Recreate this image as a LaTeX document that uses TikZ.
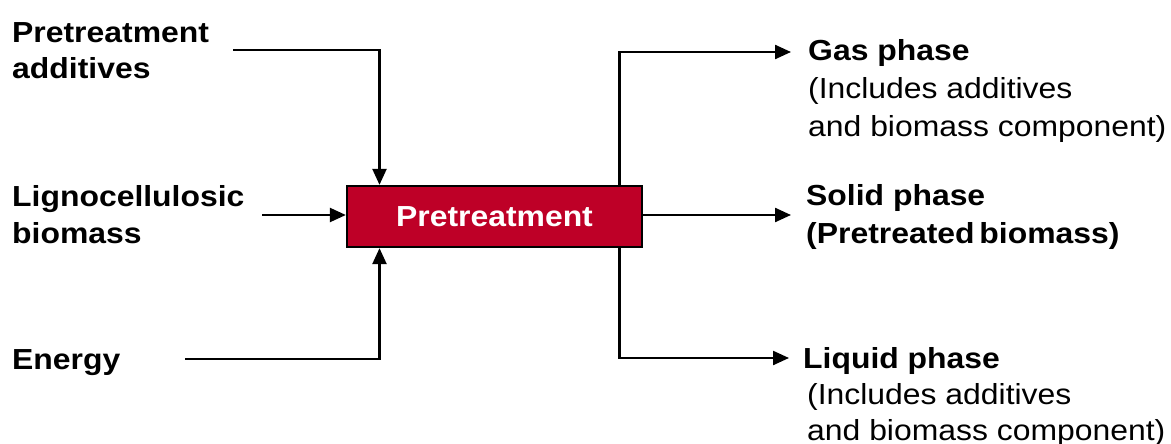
\documentclass[tikz,border=0pt]{standalone}
\usepackage{fontspec}
\setmainfont{Liberation Sans}[FakeStretch=1.10,BoldFeatures={FakeStretch=1.10}]
\usetikzlibrary{arrows.meta}
\definecolor{procred}{HTML}{BE0027}
\begin{document}
\begin{tikzpicture}[x=1pt,y=-1pt,
  flow/.style={line width=2.3pt,-{Triangle[length=16pt,width=14pt]}},
  lbl/.style={anchor=base west,inner sep=0pt,font=\fontsize{29}{35}\selectfont\bfseries},
  note/.style={anchor=base west,inner sep=0pt,font=\fontsize{29}{35}\selectfont},
  procbox/.style={draw=black,line width=2.3pt,fill=procred,text=white,
    minimum width=295pt,minimum height=61pt,inner sep=0pt,
    font=\fontsize{29}{35}\selectfont\bfseries}]
\useasboundingbox (0,0) rectangle (1171,444);

% central process
\node[procbox] (pt) at (494.5,216.5) {Pretreatment};

% inputs
\node[lbl] (add1) at (12,43) {Pretreatment};
\node[lbl] (add2) at (12,79) {additives};
\node[lbl] (lig1) at (12,206) {Lignocellulosic};
\node[lbl] (lig2) at (12,243) {biomass};
\node[lbl] (en) at (12,369) {Energy};

\coordinate (addS) at (233,50);
\coordinate (ligS) at (262,215);
\coordinate (enS) at (185,359);

\draw[flow] (addS) -| ([xshift=-115pt]pt.north);
\draw[flow] (ligS) -- (ligS -| pt.west);
\draw[flow] (enS) -| ([xshift=-115pt]pt.south);

% outputs
\node[lbl] (gas) at (808,61) {Gas phase};
\node[note] (gas2) at (808,99) {(Includes additives};
\node[note] (gas3) at (808,136) {and biomass component)};
\node[lbl] (sol) at (806,205) {Solid phase};
\node[lbl] (sol2) at (806,243) {(Pretreated\,biomass)};
\node[lbl] (liq) at (803,368) {Liquid phase};
\node[note] (liq2) at (807,404) {(Includes additives};
\node[note] (liq3) at (807,440) {and biomass component)};

\coordinate (gasE) at (791,52);
\coordinate (solE) at (791,215);
\coordinate (liqE) at (789,358);

\draw[flow] ([xshift=125pt]pt.north) |- (gasE);
\draw[flow] (pt.east |- solE) -- (solE);
\draw[flow] ([xshift=125pt]pt.south) |- (liqE);
\end{tikzpicture}
\end{document}
